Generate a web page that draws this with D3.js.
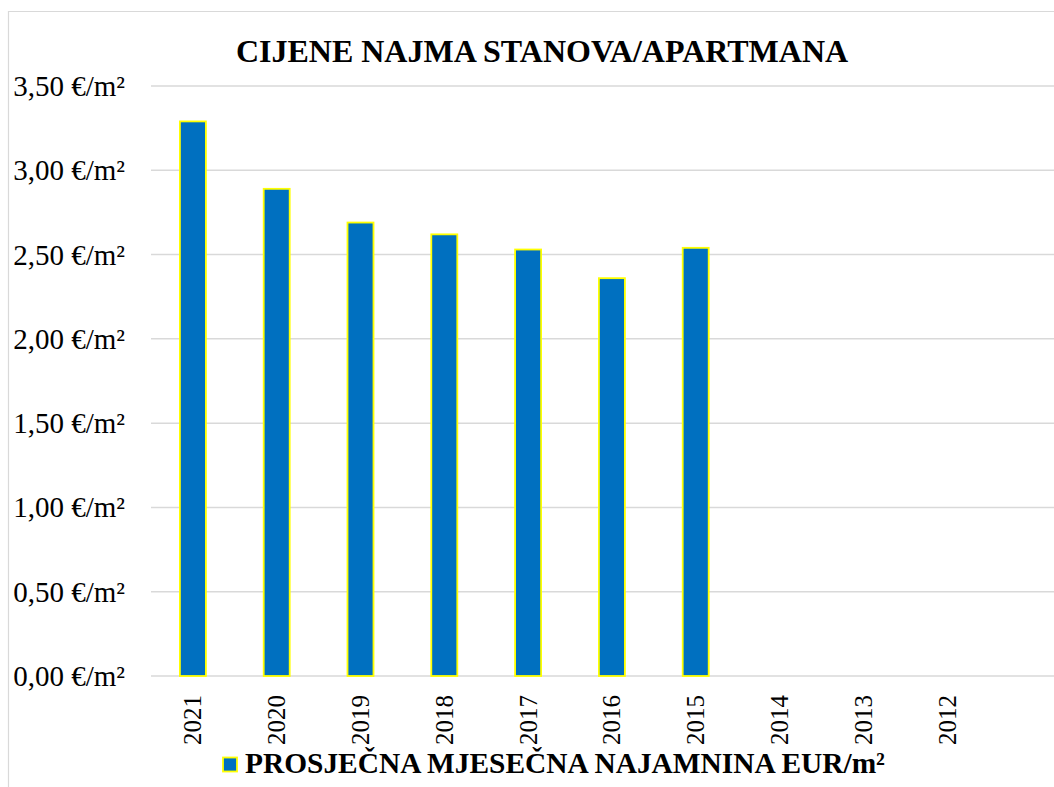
<!DOCTYPE html>
<html>
<head>
<meta charset="utf-8">
<script src="https://cdn.jsdelivr.net/npm/d3@7.9.0/dist/d3.min.js"></script>
<style>
  body { margin: 0; background: #fff; }
  svg { display: block; font-family: "Liberation Serif", "Times New Roman", serif; }
</style>
</head>
<body>
<svg id="chart" width="1054" height="787"></svg>
<script>
const title = 'CIJENE NAJMA STANOVA/APARTMANA';
const seriesName = 'PROSJEČNA MJESEČNA NAJAMNINA EUR/m²';
const years = ['2021', '2020', '2019', '2018', '2017', '2016', '2015', '2014', '2013', '2012'];
const rent = [3.29, 2.89, 2.69, 2.62, 2.53, 2.36, 2.54, null, null, null];
const yTicks = [0, 0.5, 1, 1.5, 2, 2.5, 3, 3.5];

const svg = d3.select('#chart');
const W = 1054, H = 787;

// chart frame (cut off on the right and bottom)
svg.append('path')
  .attr('d', `M8.5,${H + 2}V11.5H${W + 2}`)
  .attr('fill', 'none')
  .attr('stroke', '#d9d9d9')
  .attr('stroke-width', 1.2);

const x = d3.scaleBand().domain(years).range([151, 989]);
const y = d3.scaleLinear().domain([0, 3.5]).range([676, 86]);

// gridlines
svg.append('g')
  .selectAll('line')
  .data(yTicks)
  .join('line')
  .attr('x1', 151).attr('x2', W)
  .attr('y1', d => y(d)).attr('y2', d => y(d))
  .attr('stroke', '#d9d9d9')
  .attr('stroke-width', 1.5);

// y tick labels
const fmt = v => d3.format('.2f')(v).replace('.', ',') + ' €/m²';
svg.append('g')
  .selectAll('text')
  .data(yTicks)
  .join('text')
  .attr('x', 125)
  .attr('y', d => y(d) + 10)
  .attr('text-anchor', 'end')
  .attr('font-size', 29)
  .attr('fill', '#000')
  .text(fmt);

// bars
const barW = 26;
svg.append('g')
  .selectAll('rect')
  .data(years.map((yr, i) => ({ yr, v: rent[i] })).filter(d => d.v != null))
  .join('rect')
  .attr('x', d => x(d.yr) + x.bandwidth() / 2 - barW / 2)
  .attr('y', d => y(d.v))
  .attr('width', barW)
  .attr('height', d => y(0) - y(d.v))
  .attr('fill', '#0070c0')
  .attr('stroke', '#ffff00')
  .attr('stroke-width', 1.8);

// x labels, rotated
svg.append('g')
  .selectAll('text')
  .data(years)
  .join('text')
  .attr('transform', d => `translate(${x(d) + x.bandwidth() / 2 + 8.5},695) rotate(-90)`)
  .attr('text-anchor', 'end')
  .attr('font-size', 25)
  .attr('fill', '#000')
  .text(d => d);

// title
svg.append('text')
  .attr('x', 542)
  .attr('y', 62)
  .attr('text-anchor', 'middle')
  .attr('font-size', 32)
  .attr('font-weight', 'bold')
  .attr('fill', '#000')
  .text(title);

// legend
svg.append('rect')
  .attr('x', 223).attr('y', 757.5)
  .attr('width', 14).attr('height', 14)
  .attr('fill', '#0070c0')
  .attr('stroke', '#ffff00')
  .attr('stroke-width', 1.8);
svg.append('text')
  .attr('x', 245)
  .attr('y', 773)
  .attr('font-size', 29.4)
  .attr('font-weight', 'bold')
  .attr('fill', '#000')
  .text(seriesName);
</script>
</body>
</html>
